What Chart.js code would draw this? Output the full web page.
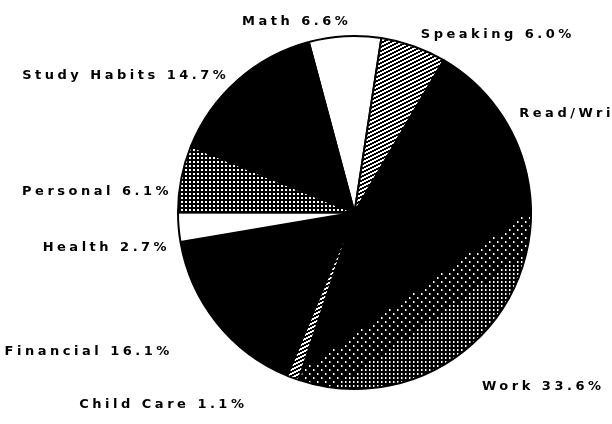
<!DOCTYPE html>
<html>
<head>
<meta charset="utf-8">
<script src="https://cdn.jsdelivr.net/npm/chart.js@4.4.0/dist/chart.umd.min.js"></script>
<style>
  html, body { margin: 0; padding: 0; background: #fff; }
  canvas { display: block; }
</style>
</head>
<body>
<canvas id="pieChart" width="612" height="424"></canvas>
<script>
// Slices, clockwise from Math at the top
var categories = ['Math', 'Speaking', 'Read/Writing', 'Work', 'Child Care', 'Financial', 'Health', 'Personal', 'Study Habits'];
var percents = [6.6, 6.0, 13.1, 33.6, 1.1, 16.1, 2.7, 6.1, 14.7];
var fills = ['white', 'hatch', 'black', 'workDots', 'hatch', 'black', 'white', 'grid', 'black'];

// small nudges for the label text, relative to the slice's mid-angle point
var labelDx = [7, 3, 12, 1, -41, -34, 4, 3, 0];
var labelDy = [-2, 0, 12, 34, 15, 21, 20, 16, 5];

var canvas = document.getElementById('pieChart');
var ctx = canvas.getContext('2d');

function makeTile(w, h, draw) {
    var c = document.createElement('canvas');
    c.width = w; c.height = h;
    var t = c.getContext('2d');
    draw(t, w, h);
    return c;
}

// diagonal stripes, rising to the right
var hatchTile = makeTile(8, 4, function (t, w, h) {
    t.fillStyle = '#fff';
    t.fillRect(0, 0, w, h);
    t.fillStyle = '#000';
    for (var x = 0; x < w; x++) {
        for (var y = 0; y < h; y++) {
            if (((y + Math.floor(x / 2)) % 4) < 2) t.fillRect(x, y, 1, 1);
        }
    }
});

// black with a grid of white dots
var gridTile = makeTile(4, 4, function (t) {
    t.fillStyle = '#000';
    t.fillRect(0, 0, 4, 4);
    t.fillStyle = '#fff';
    t.fillRect(1, 1, 2, 2);
});

// work slice: black, white dots only on the outer lower-right part (like the print)
var workTile = makeTile(612, 424, function (t, w, h) {
    t.fillStyle = '#000';
    t.fillRect(0, 0, w, h);
    t.fillStyle = '#fff';
    for (var i = 0; i < w / 4; i++) {
        for (var j = 0; j < h / 4; j++) {
            var x = i * 4, y = j * 4;
            var d = (y - 200) + 0.7 * (x - 535);
            if (d > 45 || (d > 5 && (i + j) % 2 === 0)) t.fillRect(x + 1, y + 1, 1.5, 2);
        }
    }
});

var patterns = {
    white: '#ffffff',
    black: '#000000',
    hatch: ctx.createPattern(hatchTile, 'repeat'),
    grid: ctx.createPattern(gridTile, 'repeat'),
    workDots: ctx.createPattern(workTile, 'no-repeat')
};

var outsideLabels = {
    id: 'outsideLabels',
    afterDatasetsDraw: function (chart) {
        var c = chart.ctx;
        var meta = chart.getDatasetMeta(0);
        c.save();
        c.fillStyle = '#000';
        c.font = 'bold 13px "DejaVu Sans", sans-serif';
        c.letterSpacing = '3.5px';
        c.textBaseline = 'middle';
        meta.data.forEach(function (arc, i) {
            var p = arc.getProps(['x', 'y', 'startAngle', 'endAngle', 'outerRadius'], true);
            var mid = (p.startAngle + p.endAngle) / 2;
            var r = p.outerRadius + 12.5;
            var px = p.x + r * Math.cos(mid) + labelDx[i];
            var py = p.y + r * Math.sin(mid) + labelDy[i];
            c.textAlign = Math.cos(mid) < 0 ? 'right' : 'left';
            c.fillText(categories[i] + ' ' + percents[i].toFixed(1) + '%', px, py);
        });
        c.restore();
    }
};

var pieChart = new Chart(ctx, {
    type: 'pie',
    data: {
        labels: categories,
        datasets: [{
            data: percents,
            backgroundColor: fills.map(function (f) { return patterns[f]; }),
            borderColor: '#000',
            borderWidth: 2
        }]
    },
    options: {
        responsive: false,
        animation: false,
        rotation: -15,
        layout: { padding: { left: 177, right: 80, top: 35, bottom: 34 } },
        plugins: {
            legend: { display: false },
            tooltip: { enabled: false }
        }
    },
    plugins: [outsideLabels]
});
</script>
</body>
</html>
